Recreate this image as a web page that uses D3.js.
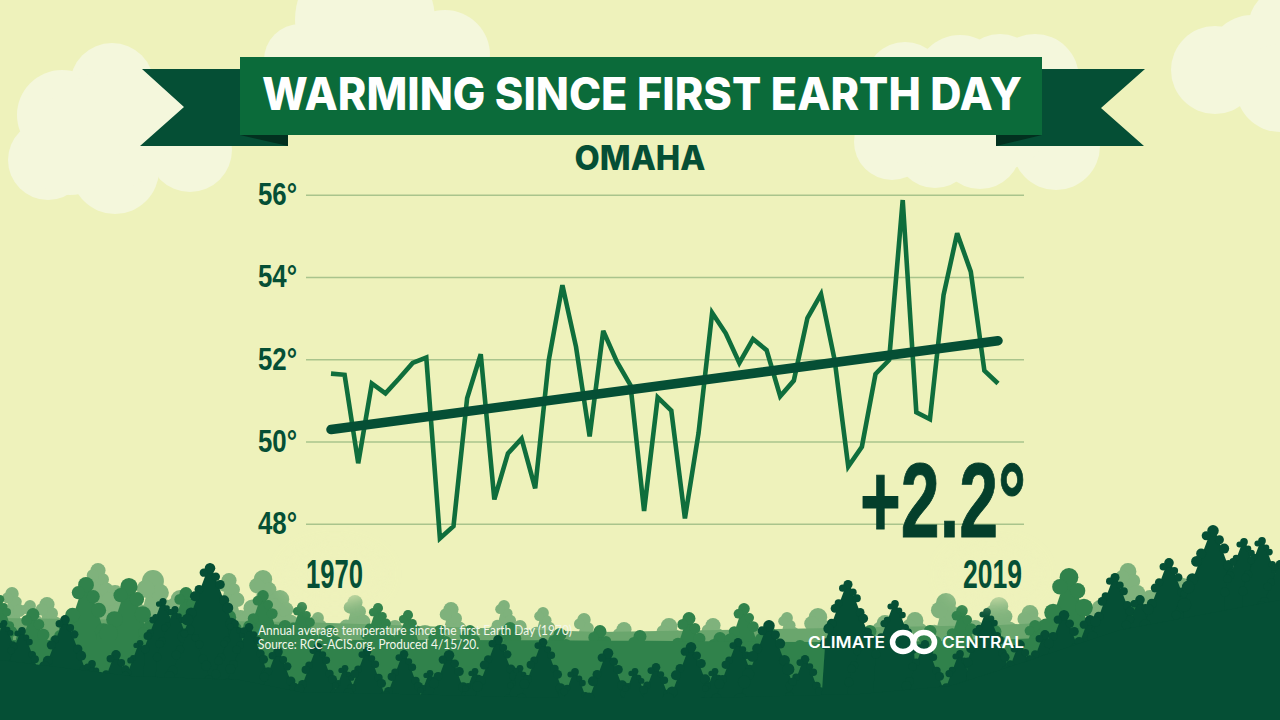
<!DOCTYPE html>
<html><head><meta charset="utf-8">
<script src="https://cdnjs.cloudflare.com/ajax/libs/d3/7.8.5/d3.min.js"></script>
<style>html,body{margin:0;padding:0;background:#EEF2BB;overflow:hidden}svg{display:block}</style>
</head><body><svg id="c" width="1280" height="720"></svg>
<script>
const years = d3.range(1970, 2020);
const temps = [51.65,51.62,49.47,51.41,51.17,51.53,51.91,52.04,47.64,47.94,
  51.05,52.12,48.59,49.71,50.07,48.86,51.98,53.80,52.30,50.12,
  52.69,51.94,51.37,48.31,51.07,50.75,48.13,50.20,53.13,52.63,
  51.91,52.49,52.22,51.10,51.48,53.00,53.58,51.98,49.39,49.87,
  51.64,51.98,55.87,50.71,50.54,53.56,55.06,54.13,51.72,51.41];
const trendYears = [1970, 2019];
const trendValues = [50.29, 52.45];
const yTicks = [48, 50, 52, 54, 56];
const titleText = "WARMING SINCE FIRST EARTH DAY";
const cityText = "OMAHA";
const changeText = "+2.2°";
const noteLines = ["Annual average temperature since the first Earth Day (1970)", "Source: RCC-ACIS.org. Produced 4/15/20."];

// Decoration
const cloudCircles = [[112,85,42],[62,115,45],[48,160,40],[115,170,44],[190,150,42],[160,120,50],[110,130,60],[70,145,50],
  [300,60,36],[365,20,70],[445,55,45],[380,70,40],
  [905,82,40],[960,80,45],[1000,76,42],[1035,78,44],[892,142,38],[935,148,40],[980,148,41],[1056,146,44],[1000,120,50],[950,120,50],
  [1215,70,44],[1252,60,45],[1290,28,42],[1280,88,44]];
const lightTrees = [[12,587,16],[30,600,14],[98,563,18],[115,585,20],[153,570,26],[180,590,22],[229,573,18],[263,570,22],[280,590,22],[318,612,14],[355,595,18],[395,620,16],[451,602,18],[425,625,20],[504,600,14],[543,607,14],[520,620,16],[584,613,16],[624,622,18],[669,618,20],[713,618,18],[745,625,20],[787,612,14],[818,608,22],[850,625,20],[885,615,20],[946,593,24],[915,612,20],[975,620,20],[999,597,22],[1030,605,20],[1128,563,20],[1150,590,20],[1183,578,16],[47,597,18],[70,620,20],[1100,600,20]];
const midTrees = [[0,595,12],[33,608,18],[60,630,16],[86,577,22],[108,625,18],[129,578,24],[150,620,18],[186,587,18],[229,610,20],[263,590,16],[285,620,18],[302,602,14],[330,625,18],[378,603,14],[408,610,14],[440,625,18],[470,625,16],[510,622,18],[560,628,18],[600,625,18],[640,630,18],[689,612,18],[720,632,18],[744,603,16],[768,625,20],[800,640,18],[835,635,18],[870,625,18],[905,630,18],[962,605,16],[930,625,18],[995,625,18],[1069,568,26],[1035,620,16],[1135,600,14]];
const darkTrees = [[4,620,14],[22,627,16],[65,615,20],[92,660,16],[116,650,20],[140,640,14],[163,598,15],[175,606,15],[210,563,22],[190,625,20],[235,620,16],[249,623,18],[278,647,20],[318,643,18],[345,665,14],[367,647,18],[404,650,18],[430,670,14],[449,650,22],[475,668,14],[498,635,20],[520,665,14],[543,638,18],[575,668,16],[608,648,22],[635,668,14],[656,663,18],[691,642,22],[715,668,14],[738,638,18],[769,620,24],[805,655,18],[848,580,19],[868,628,16],[895,600,16],[925,640,18],[960,650,16],[987,608,16],[1020,640,20],[1045,630,20],[1064,610,22],[1090,615,22],[1115,573,19],[1140,595,20],[1169,558,20],[1190,585,20],[1213,525,24],[1244,538,16],[1262,537,16],[1280,560,18]];
const groundLine = [[0,660],[130,676],[240,680],[300,692],[400,694],[560,698],[700,698],[860,694],[950,686],[1000,670],[1060,650],[1120,630],[1200,615],[1280,600],[1280,720],[0,720]];
const lightFloor = [[0,618],[300,622],[600,632],[1000,625],[1100,620],[1280,600],[1280,720],[0,720]];
const midFloor = [[0,640],[300,640],[640,640],[1000,645],[1280,620],[1280,720],[0,720]];

const svg = d3.select("#c");
const bg="#EEF2BB", cloud="#F4F7DC", green="#0B6B3A", dark="#054F35";

const defs = svg.append("defs");
defs.append("filter").attr("id","soft").attr("x","-40%").attr("y","-60%").attr("width","180%").attr("height","220%")
  .append("feGaussianBlur").attr("stdDeviation",9);

svg.append("rect").attr("width",1280).attr("height",720).attr("fill",bg);
svg.append("g").selectAll("circle").data(cloudCircles).join("circle")
  .attr("cx",d=>d[0]).attr("cy",d=>d[1]).attr("r",d=>d[2]).attr("fill",cloud);

// Lobed conifer silhouette: a cone with rounded tiers on each side
function conifer(sel, d, color, tiers, lobe, grow){
  const [x,top,hw0]=d, hw=hw0*grow, H=hw0*3.2, g=sel.append("g").attr("fill",color);
  g.append("path").attr("d",d3.line()([[x,top],[x+hw*0.85,top+H],[x+hw*1.05,720],[x-hw*1.05,720],[x-hw*0.85,top+H]])+"Z");
  g.append("circle").attr("cx",x).attr("cy",top+hw0*lobe).attr("r",hw0*lobe);
  for(let i=1;i<=tiers;i++){
    const f=i/tiers, yy=top+H*f, w=hw*Math.pow(f,0.8), r=hw0*lobe*(0.7+0.5*f);
    g.append("circle").attr("cx",x+w*0.8).attr("cy",yy+(i%2?2:-2)).attr("r",r);
    g.append("circle").attr("cx",x-w*0.85).attr("cy",yy+(i%2?-2:3)).attr("r",r);
  }
}
const lg=svg.append("g"); lightTrees.forEach(d=>conifer(lg,d,"#7FB27C",4,0.42,1));
svg.append("path").attr("d",d3.line()(lightFloor)+"Z").attr("fill","#6AA66D");
const mg=svg.append("g"); midTrees.forEach(d=>conifer(mg,d,"#30824B",4,0.36,1.25));
svg.append("path").attr("d",d3.line().curve(d3.curveBasis)(midFloor)+"Z").attr("fill","#30824B");
const dg=svg.append("g"); darkTrees.forEach(d=>conifer(dg,d,dark,6,0.24,1.4));
svg.append("path").attr("d",d3.line()(groundLine)+"Z").attr("fill",dark);

// Soft halos
svg.append("ellipse").attr("cx",335).attr("cy",574).attr("rx",48).attr("ry",28).attr("fill",bg).attr("opacity",.8).attr("filter","url(#soft)");
svg.append("ellipse").attr("cx",992).attr("cy",574).attr("rx",46).attr("ry",28).attr("fill",bg).attr("opacity",.8).attr("filter","url(#soft)");

// Ribbon
const poly=(p,f)=>svg.append("polygon").attr("points",p.join(" ")).attr("fill",f);
poly([[142,69],[288,69],[288,146],[140,146],[184,107]],dark);
poly([[1000,69],[1145,69],[1101,108],[1144,146],[996,146]],dark);
poly([[240,135],[288,135],[288,146]],"#02301F");
poly([[1042,135],[996,135],[996,146]],"#02301F");
svg.append("rect").attr("x",240).attr("y",57).attr("width",802).attr("height",78).attr("fill",green);
svg.append("text").text(titleText).attr("x",262).attr("y",110).attr("textLength",760).attr("lengthAdjust","spacingAndGlyphs")
  .attr("font-family","Inter, Lato, sans-serif").attr("font-weight",800).attr("font-size",45).attr("fill","#fff");
svg.append("text").text(cityText).attr("x",640).attr("y",170).attr("text-anchor","middle")
  .attr("textLength",131).attr("lengthAdjust","spacingAndGlyphs")
  .attr("font-family","Inter, Lato, sans-serif").attr("font-weight",800).attr("font-size",34).attr("fill",dark);

// Chart
const x=d3.scaleLinear().domain([1970,2019]).range([331,998]);
const y=d3.scaleLinear().domain([48,56]).range([523.7,194.7]);
const narrow="'Liberation Sans Narrow', 'Liberation Sans', sans-serif";
const axis=svg.append("g").attr("transform","translate(306,0)")
  .call(d3.axisLeft(y).tickValues(yTicks).tickSize(-718).tickPadding(9).tickFormat(d=>d+"°"));
axis.select(".domain").remove();
axis.selectAll("line").attr("stroke","#A9C48C").attr("stroke-width",1.6);
axis.selectAll("text").attr("font-family",narrow).attr("font-weight",700).attr("font-size",31).attr("fill",dark)
  .attr("textLength",39).attr("lengthAdjust","spacingAndGlyphs");

const table=years.map((yr,i)=>({yr,v:temps[i]}));
svg.append("path").datum(table).attr("fill","none").attr("stroke","#0F6E3C").attr("stroke-width",4.6)
  .attr("stroke-linejoin","miter").attr("stroke-miterlimit",3)
  .attr("d",d3.line().x(d=>x(d.yr)).y(d=>y(d.v)));
svg.append("path").datum(trendYears.map((yr,i)=>({yr,v:trendValues[i]})))
  .attr("fill","none").attr("stroke",dark).attr("stroke-width",9.5).attr("stroke-linecap","round")
  .attr("d",d3.line().x(d=>x(d.yr)).y(d=>y(d.v)));

const big=(t,xx,yy,len,fs,fill)=>svg.append("text").text(t).attr("x",xx).attr("y",yy).attr("textLength",len)
  .attr("lengthAdjust","spacingAndGlyphs").attr("font-family",narrow).attr("font-weight",700).attr("font-size",fs).attr("fill",fill);
big(years[0],306,588,57,41,dark);
big(years[years.length-1],963,588,59,41,dark);
big(changeText,860,537,166,106,"#043F2B").attr("stroke","#043F2B").attr("stroke-width",1);

// Footnote
noteLines.forEach((t,i)=>svg.append("text").text(t).attr("x",258).attr("y",635+i*14)
  .attr("textLength",i?221:314).attr("lengthAdjust","spacingAndGlyphs")
  .attr("font-family","Lato, sans-serif").attr("font-size",12.5).attr("fill","#F4F7EA"));

// Logo
[["CLIMATE",808,77],["CENTRAL",942,82]].forEach(l=>svg.append("text").text(l[0]).attr("x",l[1]).attr("y",648)
  .attr("textLength",l[2]).attr("lengthAdjust","spacingAndGlyphs")
  .attr("font-family","Inter, Lato, sans-serif").attr("font-weight",600).attr("font-size",16).attr("fill","#fff"));
[903,924].forEach(cx=>svg.append("ellipse").attr("cx",cx).attr("cy",642).attr("rx",10.5).attr("ry",9.5)
  .attr("fill","none").attr("stroke","#fff").attr("stroke-width",5.5));
</script></body></html>
